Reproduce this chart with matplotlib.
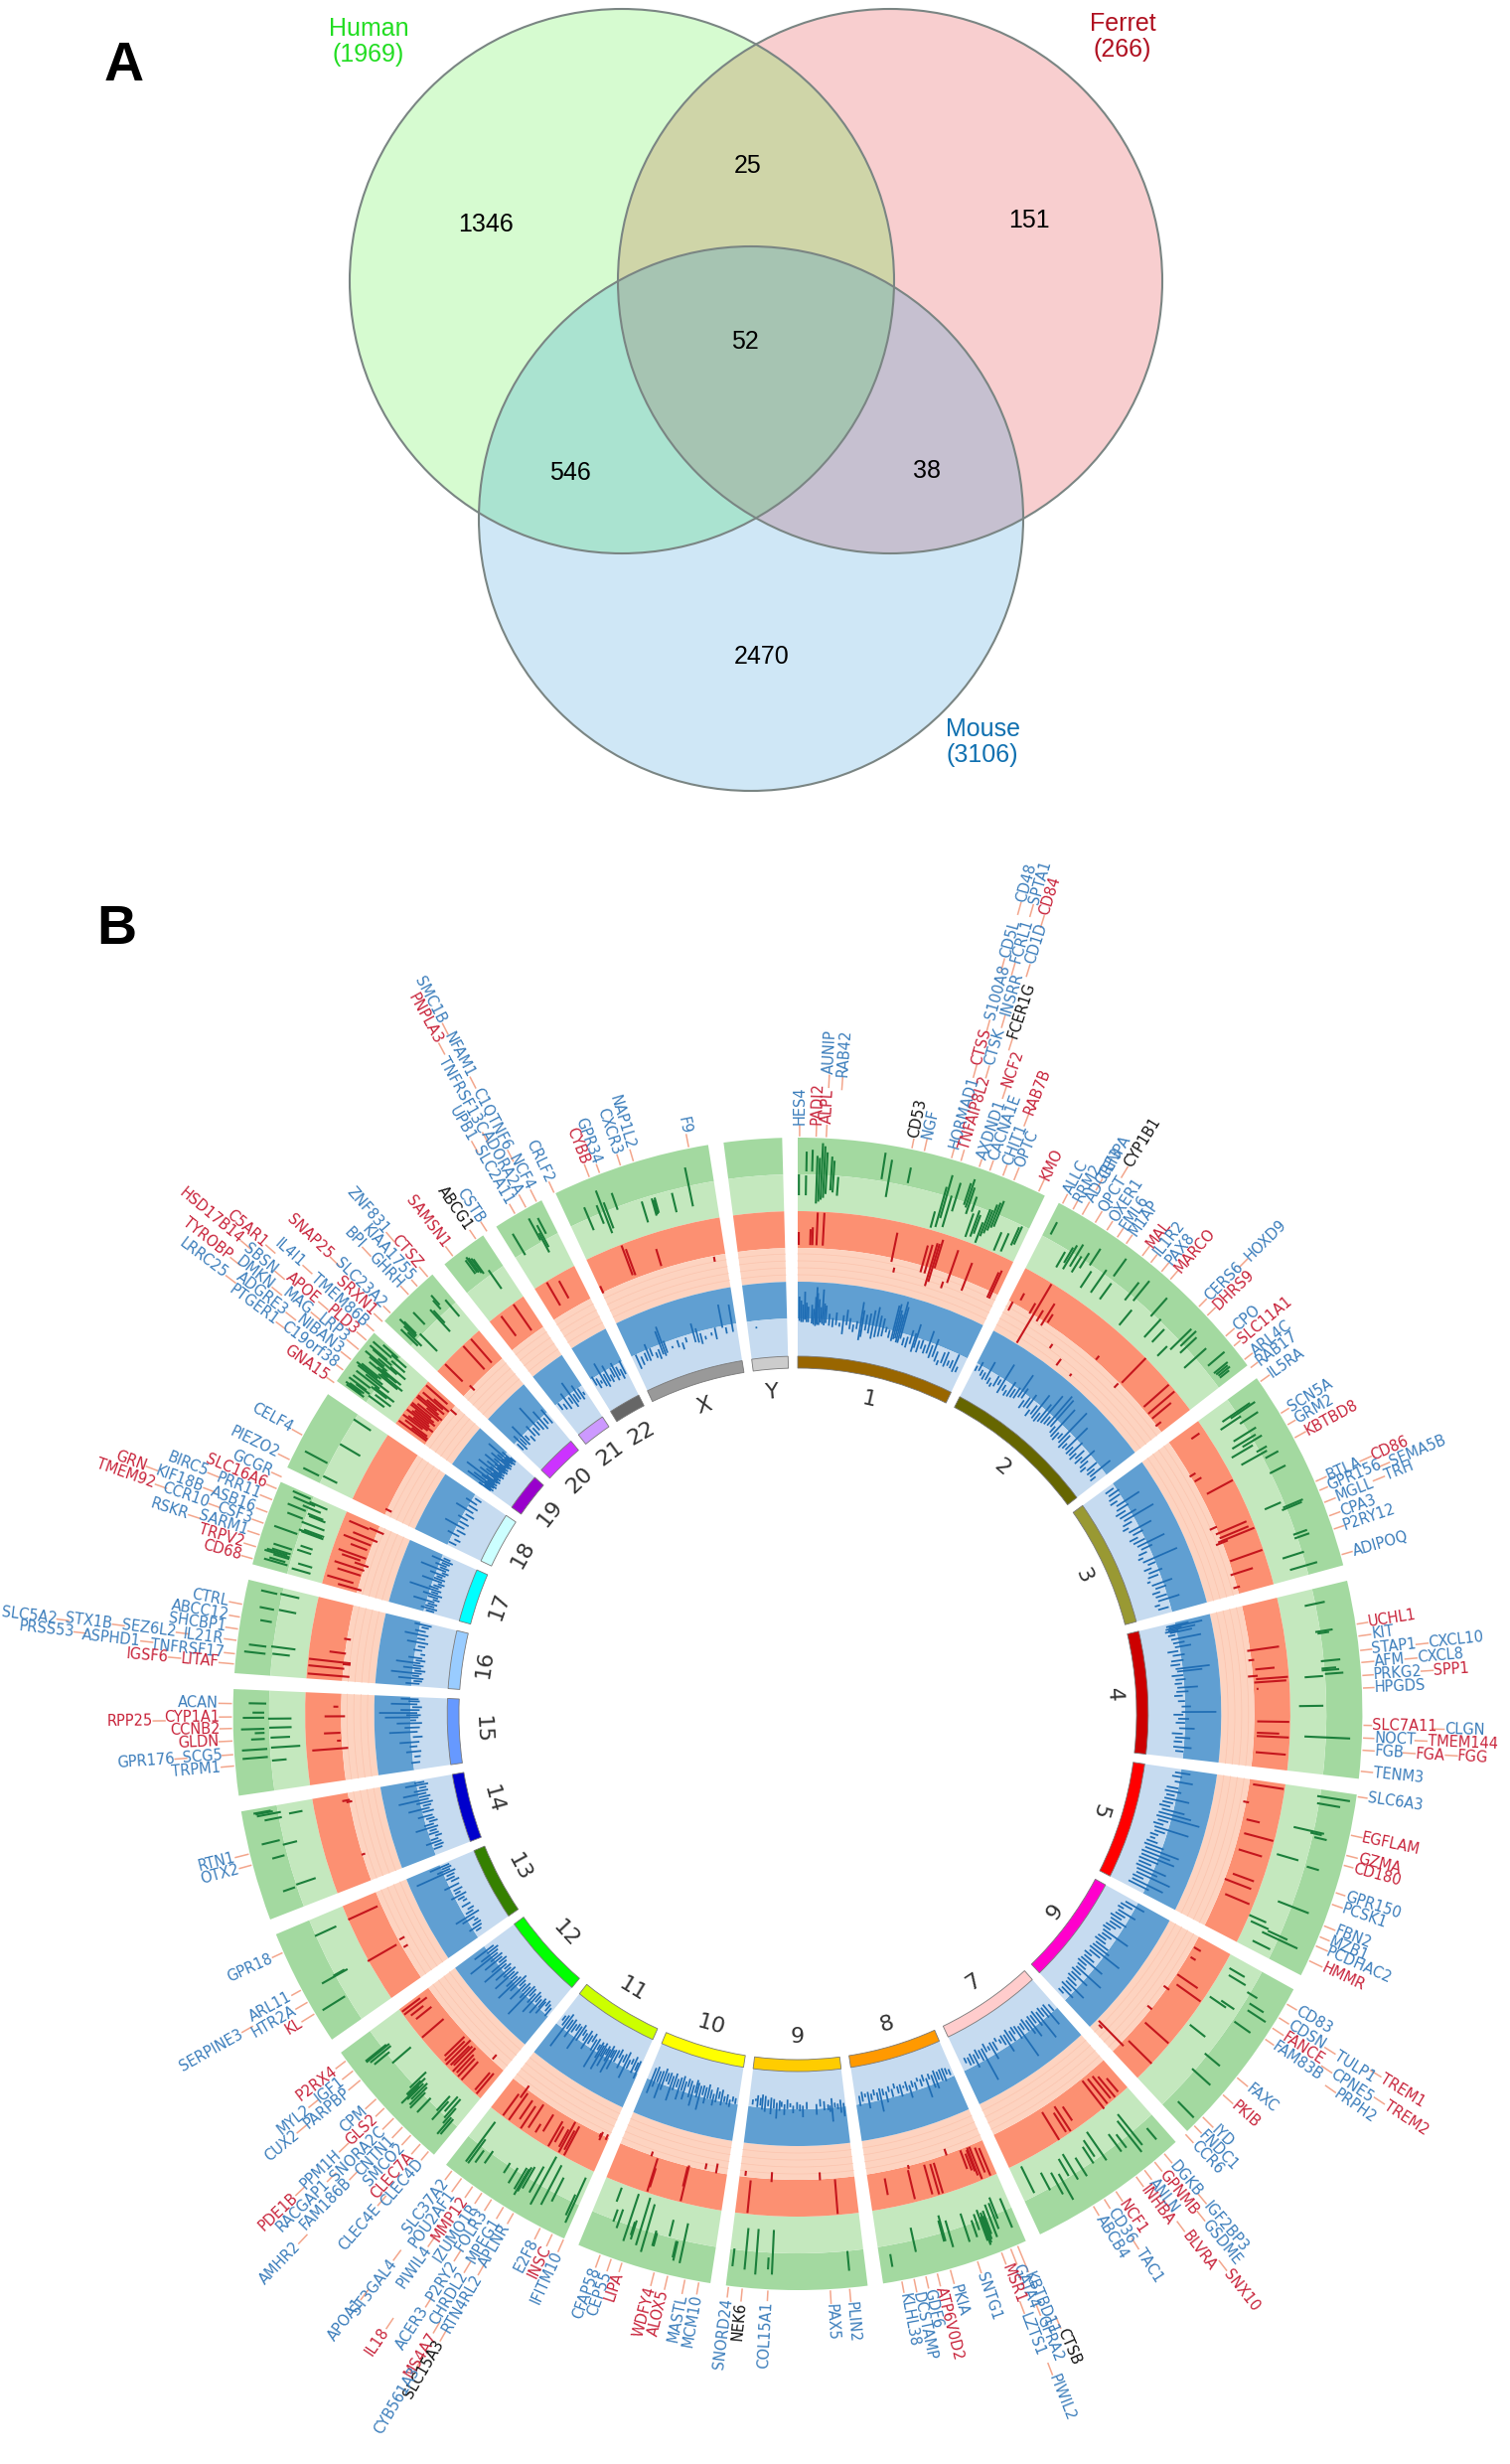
import numpy as np
import matplotlib
matplotlib.use('Agg')
import matplotlib.pyplot as plt
from matplotlib.patches import Ellipse, Polygon
from matplotlib.textpath import TextPath
from matplotlib.font_manager import FontProperties

# panel A counts
venn_counts = ['1346', '25', '151', '52', '546', '38', '2470']
venn_names = ['Human\n(1969)', 'Ferret\n(266)', 'Mouse\n(3106)']

# chromosomes and their sizes (Mb)
chroms = ['1','2','3','4','5','6','7','8','9','10','11','12','13','14','15','16','17','18','19','20','21','22','X','Y']
chrom_mb = [248.9,242.2,198.3,190.2,181.5,171.0,159.3,145.1,138.4,133.8,135.1,133.3,114.4,107.0,102.0,90.3,83.3,80.4,58.6,64.4,46.7,50.8,156.0,57.2]
chrom_colors = ['#996600','#666600','#999933','#CC0000','#FF0000','#FF00CC','#FFCCCC','#FF9900','#FFCC00','#FFFF00','#CCFF00','#00FF00',
                '#358000','#0000CC','#6699FF','#99CCFF','#00FFFF','#CCFFFF','#9900CC','#CC33FF','#CC99FF','#666666','#999999','#CCCCCC']

# tracks: (% along chromosome, inner value, outer value)
chr1_green = [(0.5,522,543),(3.5,522,542),(3.6,546,566),(6,546,568),(8,514,562),(9,516,560),(10,518,575),(11,520,572),(12,524,566),(14,528,562),(15,526,558),(17,523,542),(35,545,572),(38,528,566),(46,546,562),(60,508,525),(62,510,552),(63,520,565),(65,512,545),(67,530,560),(71,540,563),(72,538,568),(73,532,560),(75,536,552),(76,510,535),(78,512,540),(79,516,536),(81,508,530),(82,516,545),(83,520,545),(84,524,552),(85,528,555),(86,530,558),(90,508,528),(93,510,530),(96,520,540),(97,522,542)]
chr1_red = [(0.5,472,485),(6,472,488),(7,472,490),(9,472,505),(12,472,505),(46,465,495),(48,455,460),(61,462,490),(63,462,492),(65,450,495),(66,455,495),(67,470,500),(73,453,460),(75,460,495),(83,458,488),(96,462,490),(97,462,493)]
chr1_blue = [(1,394,420),(2,392,416),(3,392,412),(4,396,425),(5,392,414),(6,392,410),(8,390,412),(9,388,408),(10,386,420),(10.5,390,430),(11,388,424),(12,388,418),(13,392,410),(14,390,428),(15,388,414),(16,392,412),(18,388,404),(20,386,400),(22,390,406),(24,388,396),(26,376,404),(28,392,410),(30,386,402),(32,382,396),(34,388,400),(36,370,420),(37,376,412),(39,388,408),(41,384,410),(43,376,414),(45,380,418),(47,382,410),(49,384,408),(51,392,400),(53,384,398),(55,380,424),(56,384,426),(57,386,420),(58,380,416),(59,380,430),(60,388,425),(62,378,394),(64,376,396),(66,384,404),(68,372,402),(69,380,412),(71,374,396),(73,382,398),(75,376,394),(77,378,410),(79,372,396),(81,376,404),(83,370,392),(85,366,384),(87,372,394),(89,368,396),(91,372,388),(93,370,390),(95,366,398),(97,368,386)]
chr2_green = [(3,548,562),(12,522,540),(14,530,548),(15,524,552),(17,530,556),(19,526,545),(21,534,552),(24,542,562),(26,518,538),(31,520,548),(35,547,569),(36,520,540),(45,535,558),(48,540,566),(50,512,532),(58,540,565),(62,520,545),(66,522,540),(72,516,530),(74,530,560),(76,540,562),(78,535,558),(84,528,558),(90,548,570),(94,548,566),(95,549,564),(96,550,565),(97,550,562)]
chr2_red = [(2,460,470),(5,475,483),(12,468,480),(14,436,505),(17,465,478),(20,464,490),(22,470,480),(30,450,455),(38,440,448),(47,440,443),(52,470,475),(68,462,468),(69,471,506),(85,471,505),(89,470,505),(92,470,495),(96,468,475)]
chr2_blue = [(1,385,396),(3,388,402),(5,382,395),(7,378,394),(9,380,408),(11,376,392),(13,374,388),(15,378,398),(17,384,396),(19,372,416),(21,380,394),(23,374,390),(25,376,402),(27,378,396),(29,380,400),(31,386,418),(33,388,404),(35,372,392),(37,378,398),(39,380,404),(41,368,388),(43,376,396),(45,372,412),(47,370,392),(49,374,406),(51,376,420),(53,378,396),(55,380,426),(57,382,424),(59,374,392),(61,370,418),(63,368,390),(65,376,392),(67,372,424),(69,366,396),(71,370,388),(73,372,414),(75,368,390),(77,370,400),(79,366,388),(81,374,396),(83,368,390),(85,376,404),(87,370,392),(89,366,386),(91,376,398),(93,372,392),(95,374,410),(97,370,388)]
chr3_green = [(8,526,560),(9,535,565),(11,520,545),(14,540,562),(20,525,552),(23,520,548),(25,530,553),(27,515,540),(31,540,552),(33,520,550),(36,545,560),(44,542,560),(60,522,540),(63,540,562),(64,538,560),(78,540,555),(80,540,556),(88,522,545),(95,526,555)]
chr3_red = [(6,490,500),(24,468,475),(28,470,478),(38,475,505),(58,462,470),(62,466,500),(65,468,500),(67,465,505),(68,462,475),(80,470,505),(88,466,490),(96,465,472)]
chr3_blue = [(3,378,396),(6,380,400),(9,376,398),(12,374,392),(15,382,416),(18,378,400),(21,372,394),(24,376,404),(27,380,422),(30,374,394),(33,370,388),(36,378,412),(39,382,400),(42,372,392),(45,376,398),(48,380,418),(51,384,402),(54,376,394),(57,372,388),(60,378,424),(63,384,398),(66,374,392),(69,380,402),(72,376,396),(75,372,386),(78,378,408),(81,382,400),(84,374,392),(87,378,398),(90,380,410),(93,372,388),(96,376,396)]
chr4_green = [(8,532,553),(23,538,556),(24,540,552),(39,540,560),(43,540,555),(44,540,558),(46,543,562),(47,522,541),(63,515,540),(80,521,568)]
chr4_red = [(28,466,499),(34,466,472),(40,472,492),(44,464,474),(46,472,505),(48,470,503),(52,472,474),(72,472,505),(79,472,495),(81,472,505),(91,472,503)]
chr4_blue = [(2,382,412),(3,386,426),(4,380,404),(5,384,418),(6,378,400),(7,386,414),(9,382,396),(12,386,422),(15,388,404),(18,390,410),(21,376,396),(24,384,402),(28,380,400),(31,378,396),(34,386,426),(36,388,418),(39,378,398),(42,384,400),(45,382,396),(48,386,412),(51,384,402),(54,380,396),(58,386,398),(62,392,404),(66,392,430),(68,378,396),(71,386,402),(74,382,398),(78,388,408),(82,376,396),(85,382,404),(88,380,396),(92,380,406),(95,384,398)]
chr5_green = [(4,540,574),(8,541,565),(24,522,554),(25,540,552),(27,545,558),(42,512,535),(44,545,558),(68,528,562),(82,506,525),(85,510,530),(86,530,552),(88,525,565),(95,520,540)]
chr5_red = [(3,473,505),(15,466,472),(26,473,487),(35,474,505),(46,473,498),(62,475,498),(67,469,498),(76,475,502)]
chr5_blue = [(3,388,408),(6,384,400),(10,390,412),(15,378,398),(18,376,402),(21,380,396),(24,378,412),(27,376,396),(30,372,394),(33,378,410),(36,374,418),(39,372,428),(42,376,396),(45,370,392),(48,374,420),(51,376,396),(54,370,390),(57,372,388),(60,368,392),(63,366,400),(66,370,418),(69,366,410),(72,368,416),(75,366,400),(78,368,394),(81,366,412),(84,370,404),(87,372,420),(90,368,392),(93,370,416),(96,366,402)]
chr6_green = [(8,512,530),(12,515,535),(15,540,552),(20,548,565),(24,550,572),(28,522,538),(30,510,530),(34,545,565),(52,510,530),(60,540,560),(72,540,565),(92,552,575)]
chr6_red = [(8,470,478),(15,472,478),(30,470,495),(36,475,505),(42,465,472),(60,464,470),(70,473,505),(87,473,506),(92,437,473),(94,440,445)]
chr6_blue = [(4,378,408),(7,372,396),(10,370,388),(13,374,404),(16,372,394),(19,366,392),(22,370,400),(25,372,396),(28,368,392),(31,366,388),(34,370,412),(37,372,394),(40,368,390),(43,366,392),(46,372,398),(49,370,402),(52,368,418),(55,372,396),(58,366,388),(61,370,394),(64,368,408),(67,366,390),(70,370,392),(73,372,416),(76,368,392),(79,372,404),(82,370,392),(85,374,396),(88,376,410),(91,372,396),(94,378,402),(97,376,392)]
chr7_green = [(8,550,565),(17,520,560),(20,525,565),(26,535,552),(30,530,552),(41,515,550),(46,520,540),(49,525,545),(57,530,552),(63,520,550),(67,522,542),(72,535,565),(76,530,555),(82,525,545),(92,510,540)]
chr7_red = [(7,485,503),(11,478,505),(14,474,503),(18,473,505),(22,471,507),(45,480,497),(50,475,505),(53,480,503),(60,473,506)]
chr7_blue = [(4,384,398),(8,378,412),(11,380,400),(14,376,396),(17,380,420),(20,374,402),(23,378,396),(26,376,410),(29,380,404),(32,374,398),(35,378,394),(38,380,424),(41,376,400),(44,374,392),(47,378,398),(50,372,396),(53,378,406),(56,376,396),(59,380,392),(62,374,388),(65,378,396),(68,376,404),(71,380,392),(74,372,392),(77,378,422),(80,378,398),(83,374,394),(86,380,402),(89,376,396),(92,380,396),(95,378,392)]
chr8_green = [(5,530,562),(12,525,548),(14,530,558),(17,530,565),(20,535,560),(21,540,565),(22,536,568),(23,540,570),(24,532,565),(27,535,552),(30,540,558),(36,530,560),(48,532,560),(52,525,552),(53,530,552),(74,530,555),(92,552,565)]
chr8_red = [(5,475,505),(8,473,500),(12,470,505),(14,470,500),(15,472,495),(17,475,493),(20,470,490),(32,463,470),(44,473,505),(47,473,505),(52,472,503),(65,468,472),(66,473,503),(86,476,493)]
chr8_blue = [(3,384,396),(6,380,394),(9,378,400),(12,378,398),(15,380,396),(18,376,404),(21,382,402),(24,378,392),(27,384,410),(30,376,392),(33,382,396),(36,378,390),(39,384,398),(42,380,394),(45,386,404),(48,378,396),(51,384,392),(54,380,400),(57,382,396),(60,376,390),(63,384,398),(66,378,392),(69,386,402),(72,380,394),(75,378,410),(78,384,398),(81,378,392),(84,384,396),(87,380,404),(90,382,392),(93,378,396),(96,384,400)]
chr9_green = [(12,543,563),(68,520,565),(71,548,560),(80,520,566),(88,520,562),(97,542,560)]
chr9_red = [(17,470,505),(30,462,470),(72,462,472),(90,472,505),(95,463,468)]
chr9_blue = [(2,392,408),(5,386,404),(8,392,400),(11,390,398),(14,382,412),(16,394,402),(18,392,400),(22,386,400),(26,382,396),(30,390,404),(40,386,398),(44,392,406),(47,390,400),(50,386,398),(54,392,402),(57,388,396),(60,382,398),(63,390,404),(66,386,396),(68,384,400),(71,388,408),(74,382,398),(77,380,404),(80,384,396),(83,378,402),(86,376,400),(88,382,396),(91,378,398),(93,384,392),(96,386,396)]
chr10_green = [(25,525,566),(30,545,565),(31,545,562),(37,525,542),(47,542,556),(48,540,556),(55,515,565),(60,510,560),(65,536,556),(66,538,552),(70,510,560),(78,530,550),(82,532,545),(85,510,525)]
chr10_red = [(10,460,470),(20,462,468),(35,468,505),(36,470,490),(63,480,500),(64,470,505),(70,465,470)]
chr10_blue = [(3,388,398),(6,386,396),(9,392,402),(12,384,400),(15,388,398),(18,378,402),(21,382,396),(24,376,400),(27,388,404),(30,382,398),(33,374,398),(36,380,404),(39,378,396),(42,380,412),(45,376,400),(47,372,396),(50,382,410),(53,376,402),(56,374,392),(59,380,406),(62,372,398),(65,376,408),(68,380,396),(71,372,400),(74,378,412),(77,374,396),(80,376,394),(83,370,404),(86,376,414),(89,378,398),(92,372,404),(95,376,412)]
chr11_green = [(4,515,565),(6,535,558),(20,525,552),(26,515,560),(33,510,565),(38,525,555),(44,530,555),(46,532,560),(47,535,565),(49,535,560),(55,540,558),(62,540,552),(78,540,555),(84,545,560),(88,535,565),(90,515,565)]
chr11_red = [(2,466,472),(7,466,475),(8,468,472),(28,472,505),(30,478,500),(33,470,505),(35,480,500),(40,480,498),(43,476,505),(53,475,495),(58,490,500),(65,472,500),(70,478,505),(75,475,498),(82,472,505),(85,465,480),(88,478,505)]
chr11_blue = [(2,376,404),(4,380,396),(7,372,400),(10,378,392),(13,382,398),(16,370,410),(19,376,394),(22,380,402),(25,372,392),(28,376,398),(31,378,408),(33,380,396),(35,374,414),(37,382,402),(39,378,396),(41,384,410),(43,376,400),(45,382,416),(47,378,404),(49,384,396),(52,376,418),(55,380,400),(58,372,392),(61,378,396),(64,372,404),(67,380,396),(70,376,392),(73,370,400),(76,376,412),(79,374,392),(82,378,396),(85,372,404),(88,376,396),(91,368,420),(94,374,396),(97,378,392)]
chr12_green = [(6,540,560),(8,540,562),(10,530,550),(12,520,545),(15,520,540),(18,530,555),(20,525,545),(30,540,560),(36,540,562),(38,535,560),(40,532,555),(42,535,558),(43,540,565),(44,530,555),(45,535,555),(47,525,548),(70,520,545),(78,540,560),(81,535,562),(83,535,565),(84,538,565)]
chr12_red = [(5,478,505),(8,480,503),(14,462,468),(22,480,505),(26,480,505),(29,478,503),(32,472,505),(35,473,500),(37,475,502),(40,470,505),(43,475,503),(46,472,500),(70,476,505),(85,478,498),(90,484,500),(94,476,505),(97,482,505)]
chr12_blue = [(3,384,400),(6,380,396),(9,376,392),(12,382,404),(14,378,398),(17,384,408),(20,380,396),(23,376,412),(26,384,402),(29,378,396),(32,376,424),(35,382,404),(38,378,398),(41,384,412),(44,380,396),(47,374,406),(50,382,420),(53,386,406),(56,380,398),(59,384,416),(62,378,402),(65,384,410),(68,380,396),(71,386,420),(74,382,408),(77,378,396),(80,384,412),(83,380,402),(86,386,426),(89,382,410),(92,378,400),(95,384,414)]
chr13_green = [(25,545,572),(45,529,559),(46,532,545),(85,520,544)]
chr13_red = [(36,463,468),(42,473,507),(45,462,468),(86,473,506)]
chr13_blue = [(8,384,396),(12,380,402),(16,378,396),(20,380,392),(24,384,404),(28,372,410),(32,380,396),(36,376,392),(42,378,396),(48,380,392),(52,382,396),(56,376,402),(60,384,396),(64,378,396),(70,380,404),(76,376,394),(80,382,398),(84,380,396),(88,376,428),(91,384,404),(94,380,398),(97,382,410)]
chr14_green = [(20,545,558),(22,522,543),(52,546,559),(62,530,545),(67,547,566),(88,540,558),(90,518,532),(93,540,565),(95,548,566),(96,550,568)]
chr14_red = [(30,466,470),(90,466,472),(92,468,476)]
chr14_blue = [(8,382,398),(12,378,396),(16,380,404),(20,384,398),(24,376,392),(28,380,398),(32,382,396),(36,378,410),(40,384,400),(44,376,394),(48,380,396),(52,382,404),(58,378,398),(62,384,412),(66,380,396),(70,376,402),(74,382,420),(78,378,398),(82,384,414),(86,380,402),(90,382,396),(94,378,410),(97,384,400)]
chr15_green = [(30,527,542),(34,546,572),(42,546,572),(43,512,542),(52,548,562),(53,522,542),(58,548,558),(62,548,572),(63,520,543),(72,520,544),(73,548,570),(78,548,560),(87,546,564)]
chr15_red = [(37,463,500),(46,470,474),(55,470,487),(74,465,486),(85,472,477)]
chr15_blue = [(10,386,400),(18,384,396),(25,382,404),(32,388,400),(38,384,410),(45,378,396),(52,386,420),(58,382,404),(64,378,412),(68,388,398),(72,384,424),(75,380,402),(78,386,430),(82,382,408),(86,378,396),(90,386,418),(94,382,400),(97,384,408)]
chr16_green = [(24,550,572),(25,525,543),(32,550,568),(33,520,545),(60,548,560),(74,548,563),(75,525,543),(92,548,565),(93,525,545)]
chr16_red = [(6,462,505),(16,468,505),(22,462,470),(24,462,505),(36,468,485),(55,465,472)]
chr16_blue = [(4,384,404),(8,380,396),(12,378,412),(16,386,398),(20,382,420),(24,376,396),(28,384,408),(32,380,398),(36,386,416),(40,378,396),(44,384,404),(50,380,392),(56,386,400),(62,382,396),(68,378,408),(74,384,398),(80,380,412),(86,386,402),(92,382,396),(96,378,404)]
chr17_green = [(8,520,540),(10,545,570),(13,548,565),(16,520,535),(18,545,562),(20,545,572),(22,548,570),(24,545,565),(30,545,565),(32,525,540),(38,525,538),(50,545,570),(55,518,542),(56,520,545),(58,518,540),(66,520,545),(70,545,562),(76,522,540),(78,525,542),(80,545,565),(85,530,550),(90,538,562),(92,525,545),(96,545,565)]
chr17_red = [(5,465,490),(12,475,503),(25,470,495),(33,468,500),(40,465,480),(45,475,495),(50,470,500),(62,472,490),(70,470,500),(78,465,492),(90,478,500),(92,462,478)]
chr17_blue = [(3,380,396),(7,376,402),(11,382,398),(15,378,396),(19,384,412),(23,376,392),(27,380,398),(31,374,404),(35,382,396),(39,378,420),(43,384,400),(47,380,396),(51,376,392),(55,382,410),(59,378,398),(63,384,396),(67,380,404),(71,376,392),(75,382,416),(79,378,396),(83,384,402),(87,380,396),(91,376,408),(95,382,396)]
chr18_green = [(8,547,565),(10,527,543),(27,545,571),(56,519,543),(92,523,544)]
chr18_red = [(8,464,471)]
chr18_blue = [(6,384,398),(14,380,394),(22,386,404),(30,378,396),(38,384,412),(46,380,398),(54,386,402),(62,378,396),(70,384,410),(78,380,398),(86,386,404),(94,382,396)]
chr19_green = [(5,548,570),(6,552,566),(8,553,572),(10,550,568),(12,525,545),(15,545,562),(17,550,572),(20,520,540),(24,548,570),(27,528,548),(30,520,545),(33,540,570),(38,530,560),(42,540,572),(45,548,575),(48,545,570),(52,525,550),(55,520,548),(58,540,565),(60,530,555),(62,525,550),(65,545,568),(68,550,575),(72,535,560),(75,525,545),(78,545,570),(80,552,575),(84,530,548),(88,550,575),(92,532,552),(95,545,565)]
chr19_red = [(8,470,505),(12,470,490),(16,472,500),(22,480,505),(26,475,500),(30,470,495),(34,476,505),(38,478,500),(42,472,498),(46,475,505),(50,480,505),(55,472,500),(60,470,490),(64,476,505),(68,480,505),(72,472,495),(78,476,503),(82,470,490),(88,462,470),(92,476,505)]
chr19_blue = [(3,380,402),(6,376,396),(9,382,418),(12,378,398),(15,374,412),(18,380,396),(21,376,404),(24,382,424),(27,378,400),(30,374,392),(33,380,410),(36,376,398),(39,382,404),(42,378,396),(45,374,416),(48,380,402),(51,376,392),(54,382,408),(57,378,396),(60,374,400),(63,380,414),(66,376,396),(69,382,404),(72,378,392),(75,374,410),(78,380,398),(81,376,404),(84,382,396),(87,378,418),(90,374,396),(93,380,402),(96,376,392)]
chr20_green = [(8,538,562),(12,535,555),(15,546,562),(18,546,570),(20,548,565),(24,520,545),(40,548,565),(62,525,555),(65,535,552),(75,548,560),(78,552,565),(90,530,552)]
chr20_red = [(18,480,505),(22,465,472),(62,473,505),(80,473,505)]
chr20_blue = [(5,380,396),(12,376,404),(18,382,398),(24,378,412),(30,384,396),(38,376,392),(46,382,402),(54,378,396),(62,384,420),(70,380,398),(78,376,408),(86,382,396),(94,378,404)]
chr21_green = [(40,553,570),(45,553,572),(48,552,570),(52,550,568),(55,548,566),(68,525,548)]
chr21_red = [(30,478,503),(70,473,505)]
chr21_blue = [(10,384,398),(22,380,394),(34,376,404),(46,382,396),(55,372,412),(64,378,396),(74,380,404),(84,376,398),(92,382,392)]
chr22_green = [(20,540,565),(62,545,570),(66,530,552),(70,535,560),(78,548,566)]
chr22_red = [(30,478,505),(55,480,500)]
chr22_blue = [(6,384,400),(14,376,396),(22,382,392),(30,374,410),(38,370,396),(46,378,404),(54,374,392),(62,380,398),(70,372,402),(78,378,396),(86,370,392),(94,376,400)]
chrX_green = [(13,530,555),(21,532,552),(24,520,566),(26,524,552),(33,540,558),(50,518,540),(57,522,540),(58,523,538),(59,524,540),(71,520,540),(83,522,562)]
chrX_red = [(1,468,476),(27,473,505),(29,472,500),(50,472,490),(91,463,468)]
chrX_blue = [(4,372,398),(8,376,394),(12,380,396),(15,378,404),(18,384,398),(22,378,392),(25,374,394),(28,380,412),(30,376,416),(32,380,400),(38,384,392),(44,382,396),(48,376,392),(52,386,396),(60,382,408),(63,380,402),(66,376,396),(70,382,392),(76,386,394),(80,378,398),(87,395,420),(90,384,396),(96,385,418)]
chrY_green = []
chrY_red = []
chrY_blue = [(22,385,392)]

# gene labels: name, group (b/r/k), position as read on the crops
genes_a = [('HES4','b',315,788),('PADI2','r',368,780),('ALPL','r',400,790),('AUNIP','b',408,625),('RAB42','b',450,630),('CD53','k',672,828),('NGF','b',710,843),
    ('HORMAD1','b',812,808),('TNFAIP8L2','r',845,810),('CTSS','r',865,610),('CTSK','b',905,610),('S100A8','b',912,447),('INSRR','b',955,450),('FCER1G','k',985,500),
    ('NCF2','r',958,675),('AXDND1','b',895,860),('CACNA1E','b',935,855),('CHIT1','b',965,905),('OPTC','b',1000,920),('RAB7B','r',1033,745),('CD5L','b',950,285),
    ('FCRL1','b',985,290),('CD1D','b',1030,300),('CD48','b',1000,115),('SPTA1','b',1040,115),('CD84','r',1072,155),('KMO','r',1075,965),('ALLC','b',1150,1005),('RRM2','b',1185,1020)]
genes_b = [('QPCT','b',60,155),('OXER1','b',100,175),('EML6','b',125,210),('M1AP','b',155,228),('MAL','r',200,275),('IL1R2','b',232,290),('PAX8','b',265,320),('MARCO','r',310,325),
    ('CERS6','b',395,420),('DHRS9','r',425,445),('HOXD9','b',523,295),('CPO','b',463,530),('SLC11A1','r',520,535),('ARL4C','b',540,590),('RAB17','b',555,620),('IL5RA','b',585,665),
    ('SCN5A','b',657,762),('GRM2','b',668,805),('KBTBD8','r',720,830),('BTLA','b',758,985),('GPR156','b',790,1005),('CD86','r',897,922),('SEMA5B','b',980,930),('TRH','b',925,990),
    ('MGLL','b',790,1050),('CPA3','b',800,1095),('P2RY12','b',835,1130),('ADIPOQ','b',868,1210)]
genes_c = [('UCHL1','r',903,207),('KIT','b',876,250),('STAP1','b',910,292),('AFM','b',897,332),('PRKG2','b',920,372),('HPGDS','b',927,412),('CXCL10','b',1097,272),('CXCL8','b',1050,320),
    ('SPP1','r',1083,360),('SLC7A11','r',940,532),('CLGN','b',1123,543),('NOCT','b',913,572),('TMEM144','r',1118,582),('FGB','b',895,610),('FGA','r',1020,618),('FGG','r',1148,625),
    ('TENM3','b',923,680),('SLC6A3','b',912,762),('EGFLAM','r',900,888),('GZMA','r',865,948),('CD180','r',858,980),('GPR150','b',845,1072),('PCSK1','b',820,1105),('FBN2','b',785,1170),('MZB1','b',772,1205)]
genes_d = [('CD83','b',1328,160),('CDSN','b',1305,205),('FANCE','r',1295,245),('FAM83B','b',1278,285),('FAXC','b',1170,395),('PKIB','r',1120,445),('IYD','b',1050,510),('FNDC1','b',1040,555),
    ('CCR6','b',1005,575),('DGKB','b',940,640),('GPNMB','r',920,680),('ANLN','b',875,690),('INHBA','r',855,720),('IGF2BP3','b',1062,785),('GSDME','b',1050,830),('BLVRA','r',980,855),
    ('SNX10','r',1110,975),('NCF1','r',782,755),('CD36','b',745,780),('ABCB4','b',718,815),('TAC1','b',830,900),('KBTBD11','b',505,1015),('GATA4','b',458,965),('MSR1','r',420,955),
    ('CTSB','k',587,1145),('GFRA2','b',530,1120),('LZTS1','b',478,1110),('PIWIL2','b',565,1300),('SNTG1','b',347,995),('PKIA','b',255,1005),('ATP6V0D2','r',228,1075),('GDF6','b',178,1030),
    ('DCSTAMP','b',150,1085),('KLHL38','b',105,1065)]
genes_e = [('PLIN2','b',1375,862),('PAX5','b',1313,862),('COL15A1','b',1112,900),('NEK6','k',1032,858),('SNORD24','b',983,895),('MCM10','b',890,858),('MASTL','b',845,850),('ALOX5','r',790,835),
    ('WDFY4','r',745,830),('LIPA','r',655,755),('CEP55','b',610,775),('CFAP58','b',570,775),('IFITM10','b',450,728),('INSC','r',428,680),('E2F8','b',390,660),('APLNR','b',295,630),
    ('MPEG1','b',260,615),('FOLR3','b',225,585),('IZUMO1R','b',177,590),('MMP12','r',160,550),('POU2AF1','b',105,550),('SLC37A2','b',85,510),('RTN4RL2','b',195,805),('CHRDL2','b',155,790),
    ('P2RY2','b',135,735),('ACER3','b',45,880),('MS4A7','r',70,960),('SLC15A3','k',80,1005),('PIWIL4','b',50,695)]
genes_f = [('RTN1','b',205,73),('OTX2','b',215,108),('GPR18','b',305,392),('ARL11','b',368,510),('HTR2A','b',378,555),('KL','r',437,570),('SERPINE3','b',188,640),('P2RX4','r',507,740),
    ('IGF1','b',545,760),('PARPBP','b',538,815),('MYL2','b',437,850),('CUX2','b',400,930),('CPM','b',618,850),('GLS2','r',643,880),('SNORA2C','b',630,955),('CNTN1','b',682,960),
    ('SMCO2','b',710,985),('CLEC7A','r',735,1020),('CLEC4D','b',765,1040),('PPM1H','b',520,1000),('RACGAP1','b',465,1110),('PDE1B','r',390,1130),('FAM186B','b',535,1105),('CLEC4E','b',635,1175)]
genes_g = [('CELF4','b',822,82),('PIEZO2','b',770,155),('GCGR','b',760,218),('BIRC5','b',567,222),('SLC16A6','r',715,243),('GRN','r',395,210),('TMEM92','r',380,250),('KIF18B','b',543,265),
    ('PRR11','b',720,287),('CCR10','b',560,315),('ASB16','b',705,327),('CSF3','b',708,368),('RSKR','b',512,355),('SARM1','b',675,398),('TRPV2','r',668,438),('CD68','r',670,480),
    ('CTRL','b',635,625),('ABCC12','b',605,662),('SHCBP1','b',595,700),('IL21R','b',615,740),('TNFRSF17','b',565,778),('LITAF','r',603,815),('IGSF6','r',445,798),('SLC5A2','b',88,678),
    ('STX1B','b',268,695),('PRSS53','b',140,718),('SEZ6L2','b',450,718),('ASPHD1','b',335,745),('ACAN','b',598,942),('CYP1A1','r',578,985),('RPP25','r',393,997),('CCNB2','r',588,1022),
    ('GLDN','r',598,1062),('SCG5','b',610,1105),('GPR176','b',440,1118),('TRPM1','b',592,1143)]
genes_h = [('GNA15','r',475,965),('C19orf38','b',485,910),('NIBAN3','b',515,880),('PTGER1','b',315,790),('ADGRE3','b',340,755),('LRRC25','b',165,650),('DMKN','b',320,695),('SBSN','b',335,650),
    ('MAG','b',450,780),('LRP3','b',555,860),('PLD3','r',585,835),('APOE','r',465,740),('TMEM86B','b',575,775),('SRXN1','r',625,765),('SLC23A2','b',638,725),('IL4I1','b',425,635),
    ('C5AR1','r',297,560),('HSD17B14','r',188,520),('TYROBP','r',175,590),('SNAP25','r',485,585),('BPI','b',620,590),('GHRH','b',715,685),('KIAA1755','b',722,635),('ZNF831','b',660,505),
    ('CTSZ','r',778,630),('SAMSN1','r',840,540),('ABCG1','k',925,500),('CSTB','b',970,490)]
genes_i = [('SLC2A11','b',350,700),('UPB1','b',255,545),('ADORA2A','b',375,660),('TNFRSF13C','b',255,455),('C1QTNF6','b',345,530),('NCF4','b',435,690),('NFAM1','b',245,335),('SMC1B','b',160,170),
    ('PNPLA3','r',145,225),('CRLF2','b',488,655),('CYBB','r',603,610),('GPR34','b',635,595),('CXCR3','b',700,565),('NAP1L2','b',738,540),('F9','b',927,548)]
genes_full = [('ADGRF3','b',1112,1183),('CENPA','b',1122,1165),('CYP1B1','k',1150,1150),('PCDHAC2','b',1368,1978),('HMMR','r',1352,1990),('TULP1','b',1364,2080),('CPNE5','b',1361,2100),
    ('PRPH2','b',1364,2120),('TREM1','r',1412,2104),('TREM2','r',1415,2132),('CYB561A3','b',400,2416),('ST3GAL4','b',376,2302),('APOA1','b',348,2335),('IL18','r',380,2357),('AMHR2','b',282,2278)]

crops = [(700,850,3,genes_a),(1100,1150,3,genes_b),(1100,1560,3,genes_c),(880,1980,3,genes_d),(400,2050,3,genes_e),(150,1850,3,genes_f),(0,1400,3,genes_g),(150,1050,3,genes_h),(380,950,3,genes_i),(0,0,1,genes_full)]

W, H = 1520, 2480
cx, cy, sx = 803, 1725, 0.98
rmax = 620

fig = plt.figure(figsize=(W/100, H/100), dpi=100)

# 环形图 circos panel, polar axes squeezed a little in x like the picture
pax = fig.add_axes([(cx-rmax*sx)/W, (H-cy-rmax)/H, 2*rmax*sx/W, 2*rmax/H], projection='polar')
pax.set_aspect('auto')
pax.set_theta_zero_location('N')
pax.set_theta_direction(-1)
pax.set_rlim(0, rmax)
pax.axis('off')

bands = [(543,580,'#A3D9A0'),(506,543,'#C4E8BE'),(469,506,'#FC9072'),(435,469,'#FDD3C0'),(398,435,'#609FD2'),(360,398,'#C6DBF0')]
deg_per_mb = 0.10428
gap = (360 - deg_per_mb*sum(chrom_mb))/24

start = 0.0
for i, c in enumerate(chroms):
    span = chrom_mb[i]*deg_per_mb
    mid = np.radians(start+span/2)
    for r0, r1, col in bands:
        pax.bar(mid, r1-r0, width=np.radians(span), bottom=r0, color=col, linewidth=0, zorder=1)
    pax.bar(mid, 12, width=np.radians(span), bottom=348, color=chrom_colors[i], edgecolor='#777777', linewidth=0.6, zorder=1)
    # faint lines in the pale orange band
    th = np.radians(np.linspace(start, start+span, 30))
    for r in (442, 449, 456, 463):
        pax.plot(th, np.full(30, r), color='#FBC4AE', lw=0.5, zorder=1.5)
    for track, col, lw in (('green','#1B7F3B',1.5), ('red','#C5161D',1.5), ('blue','#1F6DB4',1.25)):
        rows = globals()[f'chr{c}_{track}']
        if rows:
            vals = np.array(rows, dtype=float)
            lo = vals[:,1]
            if track == 'blue':
                # below the band edge the blue track runs on a tighter scale
                lo = np.where(lo < 398, 398-(398-lo)*0.6, lo)
            pax.vlines(np.radians(start+vals[:,0]/100*span), lo, vals[:,2], colors=col, linewidth=lw, zorder=2)
    # chromosome number
    m = start+span/2
    rot = -m if m < 135 else (180-m if m < 270 else 360-m)
    pax.text(mid, 325, c, fontsize=16, rotation=rot, ha='center', va='center', color='#333333', family='DejaVu Sans')
    start += span+gap

# pixel axes on top, for the venn and the gene labels
ax = fig.add_axes([0, 0, 1, 1])
ax.set_xlim(0, W)
ax.set_ylim(H, 0)
ax.axis('off')
ax.patch.set_alpha(0)

centres = [(626,283), (896,283), (756,522)]
rad = 274
base_cols = ['#D6FBD0', '#F8CECF', '#CFE7F6']
for (x, y), col in zip(centres, base_cols):
    ax.add_patch(Ellipse((x, y), 2*rad, 2*rad, fc=col, ec='none', zorder=1))
for a, b, col in ((0,1,'#CFD5A8'), (0,2,'#AAE3D0'), (1,2,'#C6C0D0')):
    clip = Ellipse(centres[b], 2*rad, 2*rad, transform=ax.transData)
    p = Ellipse(centres[a], 2*rad, 2*rad, fc=col, ec='none', zorder=2)
    ax.add_patch(p)
    p.set_clip_path(clip)
# centre region, convex so angle-sorted boundary points are enough
t = np.linspace(0, 2*np.pi, 1440)
pts = []
for k, (x, y) in enumerate(centres):
    px, py = x+rad*np.cos(t), y+rad*np.sin(t)
    keep = np.ones_like(t, dtype=bool)
    for j, (u, v) in enumerate(centres):
        if j != k:
            keep &= (px-u)**2+(py-v)**2 <= rad**2
    pts.append(np.c_[px[keep], py[keep]])
pts = np.vstack(pts)
c0 = pts.mean(axis=0)
pts = pts[np.argsort(np.arctan2(pts[:,1]-c0[1], pts[:,0]-c0[0]))]
ax.add_patch(Polygon(pts, closed=True, fc='#A6C4B2', ec='none', zorder=3))
for x, y in centres:
    ax.add_patch(Ellipse((x, y), 2*rad, 2*rad, fc='none', ec='#7A8583', lw=1.5, zorder=4))

sans = 'Liberation Sans'
count_xy = [(489,226),(753,167),(1036,222),(750,344),(574,476),(933,474),(767,661)]
for s, (x, y) in zip(venn_counts, count_xy):
    ax.text(x, y, s, fontsize=18, ha='center', va='center', family=sans, color='black', zorder=5)
for s, (x, y), col in zip(venn_names, [(371,42),(1130,37),(989,747)], ['#22DD22','#B01020','#1070B0']):
    ax.text(x, y, s, fontsize=18, ha='center', va='center', family=sans, color=col, linespacing=1.1, zorder=5)
ax.text(125, 67, 'A', fontsize=40, fontweight='bold', ha='center', va='center', family=sans)
ax.text(117, 936, 'B', fontsize=40, fontweight='bold', ha='center', va='center', family=sans)

# gene labels with short links to the outer ring
group_cols = {'b':'#3B7DBB', 'r':'#C8233A', 'k':'#111111'}
fs = 10.5
fp = FontProperties(family='DejaVu Sans')
for ox, oy, sc, rows in crops:
    for name, g, zx, zy in rows:
        x, y = ox+zx/sc, oy+zy/sc
        dx, dy = (x-cx)/sx, cy-y
        r = np.hypot(dx, dy)
        ang = np.degrees(np.arctan2(dy, dx))
        rot = ang if dx >= 0 else ang-180
        ax.text(x, y, name, fontsize=fs, color=group_cols[g], rotation=rot, rotation_mode='anchor',
                ha='center', va='center', family='DejaVu Sans', zorder=6)
        w = TextPath((0,0), name, size=fs, prop=fp).get_extents().width*100/72
        r0 = r-w/2-2
        # close labels reach the ring, stacked ones only get a short tick
        r1 = 582 if r0-582 < 30 else r0-12
        ux, uy = dx/r, dy/r
        ax.plot([cx+sx*r0*ux, cx+sx*r1*ux], [cy-r0*uy, cy-r1*uy], color='#F3A68C', lw=1.1, zorder=5)

fig.savefig('out.png', dpi=100)
